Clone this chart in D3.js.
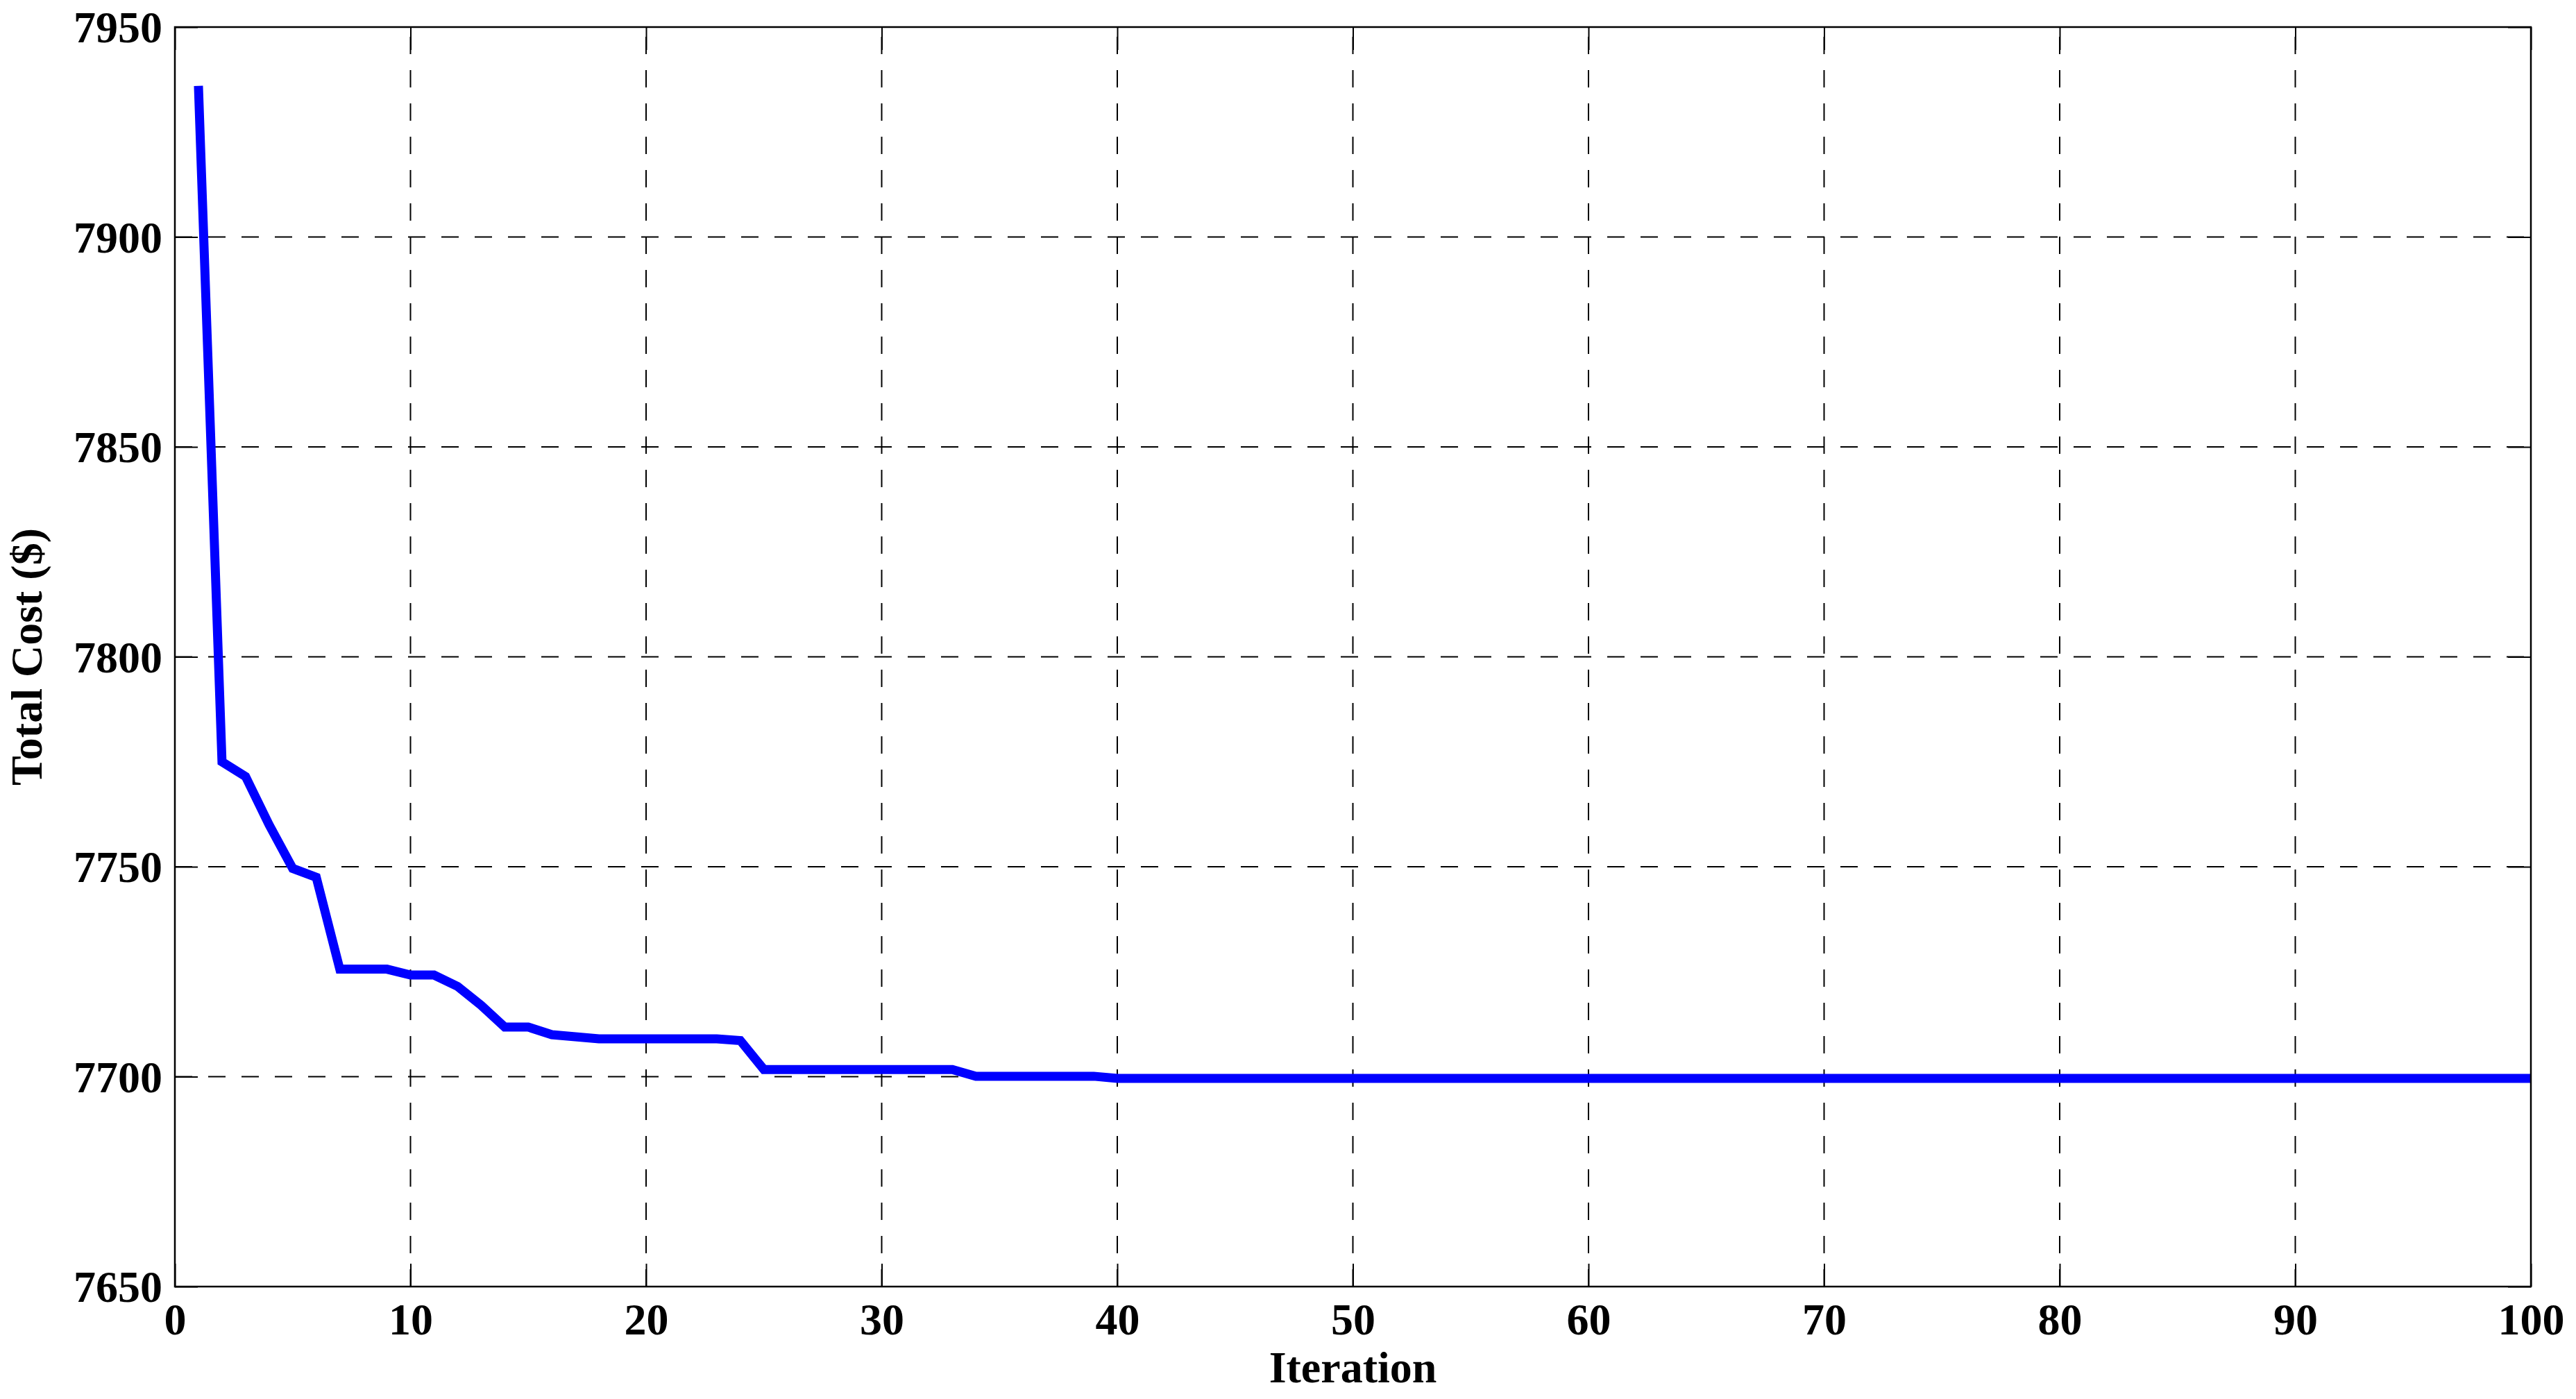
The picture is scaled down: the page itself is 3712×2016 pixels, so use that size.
<!DOCTYPE html>
<html>
<head>
<meta charset="utf-8">
<script src="https://cdn.jsdelivr.net/npm/d3@7"></script>
<style>
    body { margin: 0; background: #fff; }
    text { font-family: "Liberation Serif", "Times New Roman", serif; font-weight: bold; }
</style>
</head>
<body>
<div id="chart"></div>
<script>
// Best cost per iteration (iteration = index + 1)
const totalCost = [
    7936, 7775, 7771.5, 7760, 7749.6, 7747.5, 7725.6, 7725.6, 7725.6, 7724.2,
    7724.2, 7721.5, 7717, 7711.8, 7711.8, 7710, 7709.5, 7709, 7709, 7709,
    7709, 7709, 7709, 7708.6, 7701.7, 7701.7, 7701.7, 7701.7, 7701.7, 7701.7,
    7701.7, 7701.7, 7701.7, 7700.1, 7700.1, 7700.1, 7700.1, 7700.1, 7700.1, 7699.6,
    7699.6, 7699.6, 7699.6, 7699.6, 7699.6, 7699.6, 7699.6, 7699.6, 7699.6, 7699.6,
    7699.6, 7699.6, 7699.6, 7699.6, 7699.6, 7699.6, 7699.6, 7699.6, 7699.6, 7699.6,
    7699.6, 7699.6, 7699.6, 7699.6, 7699.6, 7699.6, 7699.6, 7699.6, 7699.6, 7699.6,
    7699.6, 7699.6, 7699.6, 7699.6, 7699.6, 7699.6, 7699.6, 7699.6, 7699.6, 7699.6,
    7699.6, 7699.6, 7699.6, 7699.6, 7699.6, 7699.6, 7699.6, 7699.6, 7699.6, 7699.6,
    7699.6, 7699.6, 7699.6, 7699.6, 7699.6, 7699.6, 7699.6, 7699.6, 7699.6, 7699.6
];
const xTicks = [0, 10, 20, 30, 40, 50, 60, 70, 80, 90, 100];
const yTicks = [7650, 7700, 7750, 7800, 7850, 7900, 7950];
const xDomain = [0, 100];
const yDomain = [7650, 7950];
const xLabel = "Iteration";
const yLabel = "Total Cost ($)";

const svg = d3.select("#chart").append("svg").attr("width", 3712).attr("height", 2016);
const margin = { top: 39, right: 65, bottom: 162, left: 252 };
const width = +svg.attr("width") - margin.left - margin.right;
const height = +svg.attr("height") - margin.top - margin.bottom;
const tickLen = 33;

const g = svg.append("g")
    .attr("transform", `translate(${margin.left},${margin.top})`);

const x = d3.scaleLinear().domain(xDomain).range([0, width]);
const y = d3.scaleLinear().domain(yDomain).range([height, 0]);

// dashed grid (vertical ones drawn bottom -> top like matlab)
g.append("g").selectAll("line")
    .data(xTicks.slice(1, -1))
    .enter().append("line")
    .attr("x1", d => x(d)).attr("x2", d => x(d))
    .attr("y1", height).attr("y2", 0)
    .attr("stroke", "#000").attr("stroke-width", 2)
    .attr("stroke-dasharray", "25,23");

g.append("g").selectAll("line")
    .data(yTicks.slice(1, -1))
    .enter().append("line")
    .attr("x1", 0).attr("x2", width)
    .attr("y1", d => y(d)).attr("y2", d => y(d))
    .attr("stroke", "#000").attr("stroke-width", 2)
    .attr("stroke-dasharray", "25,23");

// inward tick marks on all four sides
const xAxisBottom = d3.axisBottom(x).tickValues(xTicks).tickSizeInner(-tickLen).tickSizeOuter(0).tickFormat(d3.format("d"));
const xAxisTop = d3.axisTop(x).tickValues(xTicks).tickSizeInner(-tickLen).tickSizeOuter(0).tickFormat("");
const yAxisLeft = d3.axisLeft(y).tickValues(yTicks).tickSizeInner(-tickLen).tickSizeOuter(0).tickFormat(d3.format("d"));
const yAxisRight = d3.axisRight(y).tickValues(yTicks).tickSizeInner(-tickLen).tickSizeOuter(0).tickFormat("");

const bx = g.append("g").attr("transform", `translate(0,${height})`).call(xAxisBottom);
const tx = g.append("g").call(xAxisTop);
const ly = g.append("g").call(yAxisLeft);
const ry = g.append("g").attr("transform", `translate(${width},0)`).call(yAxisRight);

[bx, tx, ly, ry].forEach(a => {
    a.select(".domain").remove();
    a.selectAll(".tick line").attr("stroke", "#000").attr("stroke-width", 2);
});

bx.selectAll(".tick text")
    .attr("y", 69).attr("dy", 0)
    .attr("fill", "#000")
    .style("font-size", "64px");

ly.selectAll(".tick text")
    .attr("x", -18).attr("dy", "0.34em")
    .attr("fill", "#000")
    .style("font-size", "64px");

// cost curve
const line = d3.line()
    .x((d, i) => x(i + 1))
    .y(d => y(d));

g.append("path")
    .datum(totalCost)
    .attr("fill", "none")
    .attr("stroke", "#0000ff")
    .attr("stroke-width", 13)
    .attr("stroke-linejoin", "miter")
    .attr("stroke-linecap", "butt")
    .attr("d", line);

// box
g.append("rect")
    .attr("width", width).attr("height", height)
    .attr("fill", "none")
    .attr("stroke", "#000").attr("stroke-width", 2.5);

// axis labels
svg.append("text")
    .attr("x", margin.left + width / 2)
    .attr("y", 1992)
    .attr("text-anchor", "middle")
    .style("font-size", "64px")
    .text(xLabel);

svg.append("text")
    .attr("transform", `translate(60,${margin.top + height / 2}) rotate(-90)`)
    .attr("text-anchor", "middle")
    .style("font-size", "64px")
    .text(yLabel);
</script>
</body>
</html>
